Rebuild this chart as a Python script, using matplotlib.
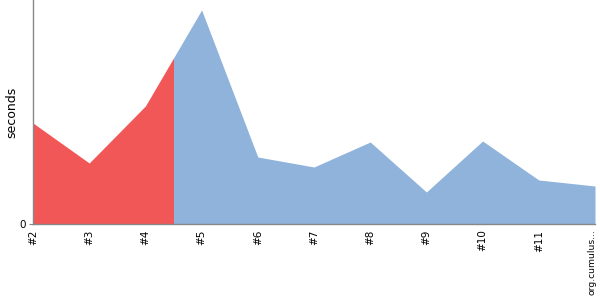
import numpy as np
import matplotlib
matplotlib.use("Agg")
import matplotlib.pyplot as plt
import matplotlib.transforms as mtransforms

labels = ["#2", "#3", "#4", "#5", "#6", "#7", "#8", "#9", "#10", "#11", "org.cumulus..."]
seconds = [101, 61, 118, 214, 67, 57, 82, 32, 83, 44, 38]
split_at = 2.5  # red part ends half way between #4 and #5

x = np.arange(len(labels), dtype=float)
y = np.array(seconds, dtype=float)
y_split = np.interp(split_at, x, y)

red = "#f25757"
blue = "#8fb3db"

fig = plt.figure(figsize=(6, 3), dpi=100)
ax = fig.add_axes([33 / 600, 76 / 300, 562 / 600, 224 / 300])

left = x <= split_at
xr = np.append(x[left], split_at)
yr = np.append(y[left], y_split)
xb = np.insert(x[~left], 0, split_at)
yb = np.insert(y[~left], 0, y_split)

ax.fill_between(xr, yr, 0, color=red, lw=0)
ax.fill_between(xb, yb, 0, color=blue, lw=0)

ax.set_xlim(0, len(labels) - 1)
ax.set_ylim(0, 224)
ax.set_xticks(x)
ax.set_xticklabels(labels, rotation=90, fontsize=7.5)
ax.tick_params(axis="x", length=0, pad=4)
ax.set_yticks([0])
ax.tick_params(axis="y", length=3, labelsize=7.5, color="#888888", pad=2)
ax.set_ylabel("seconds", fontsize=9, labelpad=1)

# last label sits against the right and bottom edges, shrink and nudge it in
last = ax.get_xticklabels()[-1]
last.set_fontsize(6.6)
last.set_transform(last.get_transform() + mtransforms.ScaledTranslation(-3 / 100, 0, fig.dpi_scale_trans))

for s in ["top", "right"]:
    ax.spines[s].set_visible(False)
for s in ["left", "bottom"]:
    ax.spines[s].set_color("#888888")
    ax.spines[s].set_linewidth(1)

fig.savefig("out.png", dpi=100)
